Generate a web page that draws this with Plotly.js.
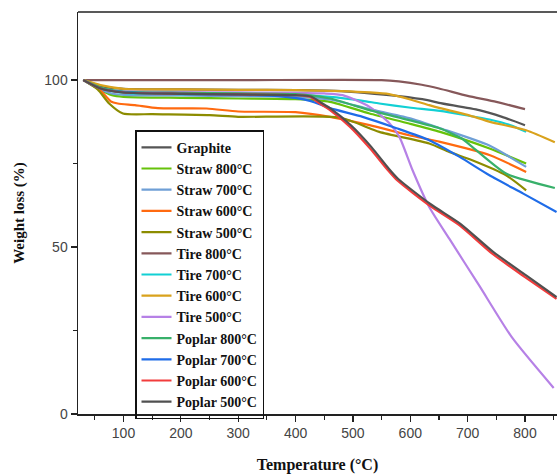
<!DOCTYPE html>
<html>
<head>
<meta charset="utf-8">
<script src="https://cdn.plot.ly/plotly-3.0.1.min.js"></script>
<style>html,body{margin:0;padding:0;background:#fff;}#chart{width:557px;height:474px;}</style>
</head>
<body>
<div id="chart"></div>
<script>
// ---- Data ----
const seriesNames = ["Graphite","Straw 800°C","Straw 700°C","Straw 600°C","Straw 500°C",
  "Tire 800°C","Tire 700°C","Tire 600°C","Tire 500°C",
  "Poplar 800°C","Poplar 700°C","Poplar 600°C","Poplar 500°C"];
const seriesColors = ["#555555","#66C20A","#6F9FD6","#FF6A10","#8C8C00",
  "#86585A","#12D0D4","#D9A21C","#B681E6",
  "#38B06A","#1F6CE8","#F23C3C","#505050"];

const graphiteT = [30,50,70,100,200,300,400,470,520,580,630,650,720,760,800];
const graphiteW = [100,98.8,97.9,97.4,97.2,97.1,97,96.8,96.2,95.2,94,93.2,91,89,86.5];

const straw800T = [30,55,80,100,200,300,400,460,529,598,652,737,802];
const straw800W = [100,97.5,95.5,95,94.7,94.5,94.3,93.5,90,87,84.5,79.6,75];

const straw700T = [30,55,80,100,200,300,400,460,529,598,652,737,802];
const straw700W = [100,97.6,96,95.6,95.4,95.2,95,94.2,91.3,88.6,85.6,80.5,74];

const straw600T = [30,56,70,78,90,120,160,245,300,400,460,529,598,652,739,802];
const straw600W = [100,97.5,95,93.6,93,92.5,91.6,91.5,90.6,90.4,89,86.5,83.5,81.5,77.5,72.5];

const straw500T = [30,55,75,99,150,250,300,477,546,633,668,708,767,802];
const straw500W = [100,97.2,93,90,89.8,89.5,89,88.8,84.5,81,78.5,76,71.5,67];

const tire800T = [30,300,550,580,620,650,700,750,800];
const tire800W = [100,100,100,99.6,98.6,97.5,95.3,93.5,91.3];

const tire700T = [30,60,100,200,300,400,460,517,546,598,652,697,738,775,802];
const tire700W = [100,97.5,96.2,95.8,95.6,95.5,95,93.8,93,91.8,90.8,89.5,88.2,86.5,84.5];

const tire600T = [30,60,100,200,300,400,480,530,563,600,633,652,700,739,802,852];
const tire600W = [100,98.5,97.4,97.2,97.1,97,96.7,96.3,95.8,94.2,92.5,91.6,89.6,87.5,85,81.4];

const tire500T = [30,60,100,200,300,400,450,482,529,564,581,604,633,668,720,777,850];
const tire500W = [100,97.5,96.6,96.4,96.3,96.2,96,95.5,92,87,83,73,62,52.5,38.5,23,7.8];

const poplar800T = [30,60,100,200,300,400,460,529,598,652,690,708,767,852];
const poplar800W = [100,97.8,96.6,96.2,96,95.8,94.5,91,88,85.5,82.5,80,72,67.7];

const poplar700T = [30,60,100,200,300,370,425,460,517,576,633,686,738,797,855];
const poplar700W = [100,97.5,96.4,95.9,95.6,95.2,93.8,91.6,89,85.6,82,77,71.5,66,60.5];

const poplar600T = [30,60,100,200,300,400,425,442,460,495,530,561,577,633,686,743,800,855];
const poplar600W = [100,97.5,96.3,95.9,95.7,95.5,95,93,91,86,79.5,73,70,62.5,56.5,48,41,34.5];

const poplar500T = [30,60,100,200,300,400,427,444,462,497,532,563,579,635,688,745,802,855];
const poplar500W = [100,97.5,96.3,95.9,95.7,95.5,95.1,93.3,91.4,86.4,80,73.4,70.4,62.9,56.9,48.5,41.5,35];

const xData = [graphiteT,straw800T,straw700T,straw600T,straw500T,tire800T,tire700T,tire600T,tire500T,poplar800T,poplar700T,poplar600T,poplar500T];
const yData = [graphiteW,straw800W,straw700W,straw600W,straw500W,tire800W,tire700W,tire600W,tire500W,poplar800W,poplar700W,poplar600W,poplar500W];

const xTickVals = [100,200,300,400,500,600,700,800];
const yTickVals = [0,50,100];

const traces = seriesNames.map((name,i)=>({
  type:'scatter', mode:'lines', name:name,
  x:xData[i], y:yData[i],
  line:{color:seriesColors[i], width:2.2, shape:'spline', smoothing:0.6}
}));

const serif = '"Liberation Serif", "Times New Roman", serif';
const layout = {
  width:557, height:474,
  margin:{l:78, r:0, t:12, b:60},
  paper_bgcolor:'#fff', plot_bgcolor:'#fff',
  showlegend:true,
  legend:{
    x:0.119, y:0.706, xanchor:'left', yanchor:'top',
    bgcolor:'rgba(255,255,255,0)', bordercolor:'#111', borderwidth:1.5,
    font:{family:serif, size:14, color:'#111', weight:'bold'},
    tracegroupgap:0, itemwidth:30
  },
  xaxis:{
    range:[20.7,855.8], tickvals:xTickVals, ticks:'outside', ticklen:6, tickwidth:1.3, tickcolor:'#222',
    showline:true, linecolor:'#222', linewidth:1.5, showgrid:false, zeroline:false,
    tickfont:{family:'"Liberation Sans", Arial, sans-serif', size:14, color:'#444'},
    minor:{dtick:50, tick0:0, ticks:'outside', ticklen:4, tickcolor:'#222', tickwidth:1.2, showgrid:false},
    title:{text:'Temperature (°C)', font:{family:serif, size:16, color:'#111', weight:'bold'}, standoff:18}
  },
  yaxis:{
    range:[0,120.4], tickvals:yTickVals, ticks:'outside', ticklen:6, tickwidth:1.3, tickcolor:'#222',
    showline:true, linecolor:'#222', linewidth:1.5, showgrid:false, zeroline:false,
    tickfont:{family:'"Liberation Sans", Arial, sans-serif', size:14, color:'#444'},
    minor:{dtick:25, tick0:0, ticks:'outside', ticklen:4, tickcolor:'#222', tickwidth:1.2, showgrid:false},
    title:{text:'Weight loss (%)', font:{family:serif, size:15, color:'#111', weight:'bold'}, standoff:16}
  },
  shapes:[{type:'line', xref:'paper', yref:'paper', x0:0, x1:1, y0:1, y1:1, line:{color:'#222', width:1.5}}]
};

Plotly.newPlot('chart', traces, layout, {displayModeBar:false, staticPlot:true});
</script>
</body>
</html>
